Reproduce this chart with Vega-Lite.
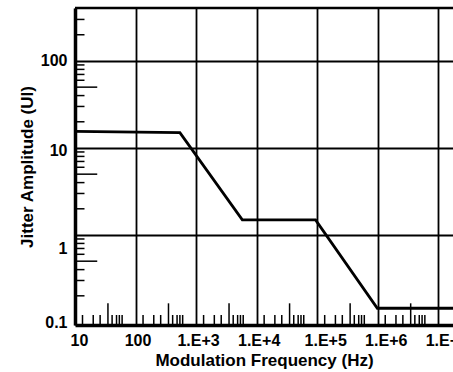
{
  "$schema": "https://vega.github.io/schema/vega-lite/v6.json",
  "autosize": {"type": "none"},
  "padding": {"left": 75, "top": 8, "right": 0, "bottom": 47},
  "width": 378,
  "height": 317,
  "background": "white",
  "config": {
    "view": {"stroke": null},
    "font": "Liberation Sans",
    "axis": {"labelFont": "Liberation Sans", "titleFont": "Liberation Sans", "labelFontWeight": "bold", "titleFontWeight": "bold", "labelColor": "black", "titleColor": "black"}
  },
  "datasets": {
    "mask": [
      {"f": 10, "a": 15.5},
      {"f": 540, "a": 15.0},
      {"f": 5800, "a": 1.49},
      {"f": 94000, "a": 1.49},
      {"f": 985000, "a": 0.144},
      {"f": 17500000, "a": 0.144}
    ],
    "xticks": [
      {"f": 13.3, "k": "s"}, {"f": 20, "k": "s"}, {"f": 26, "k": "s"}, {"f": 35, "k": "t"}, {"f": 41, "k": "s"}, {"f": 48.5, "k": "s"}, {"f": 54, "k": "s"}, {"f": 60, "k": "s"},
      {"f": 133, "k": "s"}, {"f": 200, "k": "s"}, {"f": 260, "k": "s"}, {"f": 350, "k": "t"}, {"f": 410, "k": "s"}, {"f": 485, "k": "s"}, {"f": 540, "k": "s"}, {"f": 600, "k": "s"},
      {"f": 1330, "k": "s"}, {"f": 2000, "k": "s"}, {"f": 2600, "k": "s"}, {"f": 3500, "k": "t"}, {"f": 4100, "k": "s"}, {"f": 4850, "k": "s"}, {"f": 5400, "k": "s"}, {"f": 6000, "k": "s"},
      {"f": 13300, "k": "s"}, {"f": 20000, "k": "s"}, {"f": 26000, "k": "s"}, {"f": 35000, "k": "t"}, {"f": 41000, "k": "s"}, {"f": 48500, "k": "s"}, {"f": 54000, "k": "s"}, {"f": 60000, "k": "s"},
      {"f": 133000, "k": "s"}, {"f": 200000, "k": "s"}, {"f": 260000, "k": "s"}, {"f": 350000, "k": "t"}, {"f": 410000, "k": "s"}, {"f": 485000, "k": "s"}, {"f": 540000, "k": "s"}, {"f": 600000, "k": "s"},
      {"f": 1330000, "k": "s"}, {"f": 2000000, "k": "s"}, {"f": 2600000, "k": "s"}, {"f": 3500000, "k": "t"}, {"f": 4100000, "k": "s"}, {"f": 4850000, "k": "s"}, {"f": 5400000, "k": "s"}, {"f": 6000000, "k": "s"}
    ],
    "yticks": [
      {"a": 0.2, "k": "s"}, {"a": 0.3, "k": "s"}, {"a": 0.4, "k": "s"}, {"a": 0.5, "k": "t"}, {"a": 0.6, "k": "s"}, {"a": 0.7, "k": "s"}, {"a": 0.8, "k": "s"}, {"a": 0.9, "k": "s"},
      {"a": 2, "k": "s"}, {"a": 3, "k": "s"}, {"a": 4, "k": "s"}, {"a": 5, "k": "t"}, {"a": 6, "k": "s"}, {"a": 7, "k": "s"}, {"a": 8, "k": "s"}, {"a": 9, "k": "s"},
      {"a": 20, "k": "s"}, {"a": 30, "k": "s"}, {"a": 40, "k": "s"}, {"a": 50, "k": "t"}, {"a": 60, "k": "s"}, {"a": 70, "k": "s"}, {"a": 80, "k": "s"}, {"a": 90, "k": "s"},
      {"a": 200, "k": "s"}, {"a": 300, "k": "s"}
    ]
  },
  "layer": [
    {
      "data": {"name": "mask"},
      "mark": {"type": "line", "color": "black", "strokeWidth": 2.8, "strokeJoin": "miter", "clip": true},
      "encoding": {
        "x": {
          "field": "f", "type": "quantitative",
          "title": "Modulation Frequency (Hz)",
          "scale": {"type": "log", "domain": [10, 17500000], "nice": false},
          "axis": {
            "title": "Modulation Frequency (Hz)",
            "titleFontSize": 17, "titlePadding": 4,
            "values": [10, 100, 1000, 10000, 100000, 1000000, 10000000],
            "labelExpr": "datum.value < 1000 ? format(datum.value, 'd') : '1.E+' + format(round(log(datum.value) / LN10), 'd')",
            "labelFontSize": 16, "labelPadding": 7, "labelFlush": false, "labelOverlap": false,
            "labelOffset": {"expr": "datum.value >= 100000 ? 8 : (datum.value == 10 ? 4 : 2)"},
            "ticks": false,
            "domainColor": "black", "domainWidth": 3.5,
            "grid": true, "gridColor": "black", "gridWidth": 1.8, "gridOpacity": 1
          }
        },
        "y": {
          "field": "a", "type": "quantitative",
          "title": "Jitter Amplitude (UI)",
          "scale": {"type": "log", "domain": [0.0924, 406], "nice": false},
          "axis": {
            "title": "Jitter Amplitude (UI)",
            "titleFontSize": 17, "titlePadding": 4,
            "values": [0.1, 1, 10, 100],
            "labelExpr": "datum.value < 1 ? '0.1' : format(datum.value, 'd')",
            "labelFontSize": 16, "labelPadding": 8, "labelFlush": false, "labelOverlap": false,
            "labelOffset": {"expr": "datum.value == 1 ? 14 : (datum.value == 10 ? 3 : 0)"},
            "ticks": false,
            "domainColor": "black", "domainWidth": 3.5,
            "grid": true, "gridColor": "black", "gridWidth": 1.8,
            "gridOpacity": {"expr": "datum.value < 0.5 ? 0 : 1"}
          }
        }
      }
    },
    {
      "data": {"name": "xticks"},
      "transform": [{"filter": "datum.k == 's'"}],
      "mark": {"type": "rule", "color": "black", "strokeWidth": 1.5},
      "encoding": {
        "x": {"field": "f", "type": "quantitative", "title": "Modulation Frequency (Hz)", "scale": {"type": "log", "domain": [10, 17500000], "nice": false}},
        "y": {"datum": 0.0924, "type": "quantitative", "title": "Jitter Amplitude (UI)", "scale": {"type": "log", "domain": [0.0924, 406], "nice": false}},
        "y2": {"datum": 0.1204}
      }
    },
    {
      "data": {"name": "xticks"},
      "transform": [{"filter": "datum.k == 't'"}],
      "mark": {"type": "rule", "color": "black", "strokeWidth": 1.5},
      "encoding": {
        "x": {"field": "f", "type": "quantitative", "title": "Modulation Frequency (Hz)", "scale": {"type": "log", "domain": [10, 17500000], "nice": false}},
        "y": {"datum": 0.0924, "type": "quantitative", "title": "Jitter Amplitude (UI)", "scale": {"type": "log", "domain": [0.0924, 406], "nice": false}},
        "y2": {"datum": 0.164}
      }
    },
    {
      "data": {"name": "yticks"},
      "transform": [{"filter": "datum.k == 's'"}],
      "mark": {"type": "rule", "color": "black", "strokeWidth": 1.5},
      "encoding": {
        "y": {"field": "a", "type": "quantitative", "title": "Jitter Amplitude (UI)", "scale": {"type": "log", "domain": [0.0924, 406], "nice": false}},
        "x": {"datum": 10, "type": "quantitative", "title": "Modulation Frequency (Hz)", "scale": {"type": "log", "domain": [10, 17500000], "nice": false}},
        "x2": {"datum": 14.35}
      }
    },
    {
      "data": {"name": "yticks"},
      "transform": [{"filter": "datum.k == 't'"}],
      "mark": {"type": "rule", "color": "black", "strokeWidth": 1.5},
      "encoding": {
        "y": {"field": "a", "type": "quantitative", "title": "Jitter Amplitude (UI)", "scale": {"type": "log", "domain": [0.0924, 406], "nice": false}},
        "x": {"datum": 10, "type": "quantitative", "title": "Modulation Frequency (Hz)", "scale": {"type": "log", "domain": [10, 17500000], "nice": false}},
        "x2": {"datum": 23.3}
      }
    },
    {
      "data": {"values": [{}]},
      "mark": {"type": "rule", "color": "black", "strokeWidth": 2.6},
      "encoding": {
        "y": {"datum": 406, "type": "quantitative", "title": "Jitter Amplitude (UI)", "scale": {"type": "log", "domain": [0.0924, 406], "nice": false}}
      }
    }
  ]
}
